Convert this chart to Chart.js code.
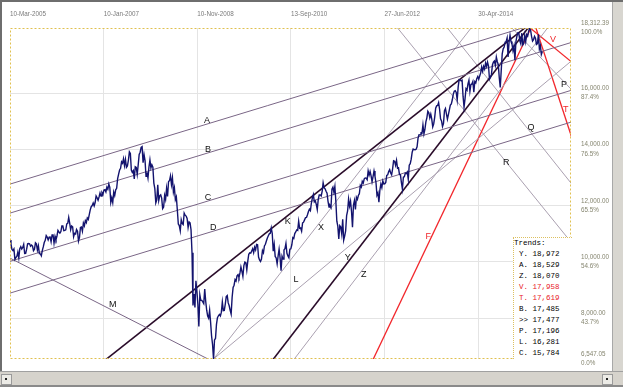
<!DOCTYPE html>
<html><head><meta charset="utf-8">
<script src="https://cdn.jsdelivr.net/npm/chart.js@4.4.1/dist/chart.umd.min.js"></script>
<style>
html,body{margin:0;padding:0;background:#fff;}
#wrap{position:relative;width:623px;height:387px;overflow:hidden;background:#fff;}
canvas{position:absolute;left:0;top:0;}
.fr{position:absolute;}
#trends{position:absolute;left:513px;top:237px;width:58px;height:121px;background:#fff;border-left:1px dotted #dcc060;border-top:1px dotted #dcc060;font-family:'Liberation Mono','Courier New',monospace;font-size:7.5px;line-height:11px;color:#000;white-space:pre;}
#trends div{padding-left:5px;}
#trends div.h{padding-left:0px;}
</style></head>
<body><div id="wrap">
<canvas id="c" width="623" height="387"></canvas>
<div class="fr" style="left:0;top:0;width:623px;height:2px;background:#6e6e6e"></div>
<div class="fr" style="left:0;top:0;width:2px;height:372px;background:#6e6e6e"></div>
<div class="fr" style="left:612px;top:2px;width:1px;height:370px;background:#a8a8a8"></div>
<div class="fr" style="left:613px;top:2px;width:10px;height:370px;background:#d8d6d0"></div>
<div class="fr" style="left:0;top:371px;width:623px;height:1px;background:#a0a0a0"></div>
<div class="fr" style="left:0;top:372px;width:623px;height:15px;background:#d6d3cc"></div>
<div class="fr" style="left:0;top:385px;width:623px;height:2px;background:#8a8a8a"></div>
<div class="fr" style="left:1px;top:374px;width:9px;height:9px;background:#ecebe6;border:1px solid #9a9a9a"></div>
<div class="fr" style="left:5px;top:378px;width:2px;height:2px;background:#222"></div>
<div class="fr" style="left:602px;top:374px;width:9px;height:9px;background:#ecebe6;border:1px solid #9a9a9a"></div>
<div class="fr" style="left:606px;top:378px;width:2px;height:2px;background:#222"></div>
<div id="trends"></div>
</div>
<script>
// Dow Jones weekly closes, first week ending 11-Mar-2005
const dow2005 = [10774,10629,10442,10404,10461,10088,10157,10193,10345,10140,10471,10542,10460,10512,10623,10297,10303,10449,10640,10651,10641,10558,10600,10559,10397,10447,10678,10641,10419,10569,10292,10287,10215,10402,10530,10686,10766,10931,10877,10778,10876,10883,10718];
const dow2006 = [10959,10960,10667,10908,10794,10920,11116,11062,11022,11077,11280,11280,11110,11120,11138,11348,11367,11578,11380,11144,11278,11248,10892,11015,10990,11150,11091,10739,10868,11220,11240,11089,11381,11284,11465,11393,11560,11509,11679,11850,11960,12002,12090,11986,12108,12342,12280,12194,12307,12445,12343,12463];
const dow2007 = [12398,12556,12565,12487,12653,12580,12767,12647,12114,12276,12110,12481,12354,12560,12612,12961,13120,13264,13326,13556,13507,13668,13424,13639,13360,13409,13611,13908,13851,13265,13182,13240,12950,13379,13358,13113,13442,13820,13896,14066,14093,13522,13807,13596,13043,13177,12981,13372,13626,13340,13451,13366];
const dow2008 = [12800,12606,12099,12207,12743,12182,12348,12381,12266,11894,11951,12361,12216,12609,12325,12849,12891,13058,12746,12986,12480,12638,12209,12307,11843,11347,11288,11100,11496,11370,11326,11734,11659,11628,11543,11220,11421,11388,11143,10325,8451,8852,8378,9325,8943,8497,7700,8829,8635,8629,8579,8515];
const dow2009 = [9034,8599,8281,8077,8000,8280,7850,7366,7063,6547,7224,7278,7776,8018,8083,8131,8076,8212,8575,8268,8277,8500,8763,8799,8539,8438,8280,8146,8743,9093,9171,9370,9321,9505,9544,9441,9605,9820,9665,9487,9864,9995,9972,9712,10023,10270,10318,10309,10388,10471,10329,10520,10428];
const dow2010 = [10618,10610,10173,10067,10012,10099,10403,10325,10567,10625,10742,10851,10927,10998,11019,11204,11009,10380,10620,10193,10137,9931,10212,10450,10144,9686,10198,10098,10425,10466,10654,10303,10214,10150,10448,10462,10608,10860,10830,11006,11063,11133,11118,11445,11193,11204,11092,11382,11410,11492,11573,11578];
const dow2011 = [11675,11787,11871,11823,12092,12273,12391,12130,12169,12044,11858,12221,12376,12380,12342,12506,12811,12638,12596,12512,12441,12151,11952,12004,11934,12583,12657,12480,12681,12143,11445,11269,10818,11285,11240,10992,11509,10771,10913,11103,11644,11809,12231,11983,12153,11796,11231,12019,12184,11866,12294,12218];
const dow2012 = [12360,12422,12720,12660,12862,12801,12950,12983,12978,12922,13233,13081,13212,13060,12850,13029,13228,13038,12821,12369,12455,12119,12554,12767,12640,12880,12772,12777,12823,13076,13096,13208,13275,13158,13091,13306,13593,13579,13437,13610,13329,13343,13107,13093,12815,12588,13010,13026,13155,13135,13190,12938];
const dow2013 = [13435,13488,13650,13896,14010,13993,13982,14001,14090,14397,14515,14512,14579,14565,14865,14548,14712,14974,15118,15354,15303,15116,15248,15070,14800,14910,15136,15464,15544,15559,15658,15425,15082,15010,14810,14923,15376,15452,15258,15073,15237,15400,15570,15616,15762,15962,16065,16086,16020,15755,16221,16479];
const dow2014 = [16470,16437,16459,15880,15500,15794,16154,16104,16322,16453,16066,16303,16323,16413,16027,16409,16361,16513,16584,16492,16607,16717,16924,16776,16948,16852,17068,16944,17100,16961,16493,16554,16663,17001,17098,17138,16988,17280,17113,17010,16544,16200,16805,17391,17573,17635,17810,17828,17958,17281,17805,18053];
const dow2015 = [17833,17737,17511,17673,17165,17825,18019,18141,18133,17857,17749,18128,17713,17763,18058,17827,18081,18025,18191,18312,18232,18011,17849,17899,18016,17947,17730,17760,18086,17569,17690,17373,17477];

// Axis ticks
const xTickWeeks = [0, 95.7, 191.4, 287.1, 382.8, 478.5];
const xTickLabels = ['10-Mar-2005','10-Jan-2007','10-Nov-2008','13-Sep-2010','27-Jun-2012','30-Apr-2014'];
const yTickValues = [6547.05, 8000, 10000, 12000, 14000, 16000, 18312.39];
const yTickPercents = ['0.0%','43.7%','54.6%','65.5%','76.5%','87.4%','100.0%'];

// Trend lines: two anchor points each (week, value)
const lineNames  = ['A','B','C','D','M','K','Y','Z','X','L','F','V','T','P','Q','R'];
const lineWeek1  = [0,0,0,0,0,99.8,269.9,291.2,208,208,371.7,531.6,544,544,447,396.1];
const lineValue1 = [12764,11733,10018,8889,10133,6578,6578,6578,6547,6547,6578,18312,17619,17196,18312,18312];
const lineWeek2  = [544,544,544,544,198.6,297.4,544,544,544,544,503.1,544,573.3,574.3,573.3,573.3];
const lineValue2 = [18529,17485,15784,14655,6613,12018,18972,18070,21566,16281,16178,17958,14507,16107,12800,10702];
// Trend-line label anchors (week, value)
const labelWeek  = [201.3,202.3,202.3,207.7,104.9,283.8,345.2,361.5,317.7,292.2,427.4,555.0,567.9,566.2,532.3,507.1];
const labelValue = [15040,14009,12302,11236,8498,11424,10169,9564,11236,9387,10891,17920,15431,16295,14780,13522];

// Trends box
const trendNames  = ['Y','A','Z','V','T','B','>>','P','L','C'];
const trendValues = [18972,18529,18070,17958,17619,17485,17477,17196,16281,15784];

const groupOf = {A:'ch',B:'ch',C:'ch',D:'ch',M:'ch',K:'major',Y:'major',Z:'light',X:'light',L:'light',P:'light',Q:'light',R:'light',F:'red',V:'red',T:'red'};
const groupStyle = {ch:{c:'#7a6686',w:1}, major:{c:'#2a0c2a',w:1.6}, light:{c:'#aaa0b0',w:1}, red:{c:'#f2262b',w:1.3}};
const redNames = ['F','V','T'];

const X_MAX = 573.3;
const closes = [].concat(dow2005,dow2006,dow2007,dow2008,dow2009,dow2010,dow2011,dow2012,dow2013,dow2014,dow2015);

function fmt(v, d){
  const s = v.toFixed(d);
  const parts = s.split('.');
  parts[0] = parts[0].replace(/\B(?=(\d{3})+(?!\d))/g, ',');
  return parts.join('.');
}

const datasets = [];
lineNames.forEach((n,i)=>{
  const slope = (lineValue2[i]-lineValue1[i])/(lineWeek2[i]-lineWeek1[i]);
  const wA = -30, wB = 620;
  const st = groupStyle[groupOf[n]];
  datasets.push({
    data:[{x:wA,y:lineValue1[i]+slope*(wA-lineWeek1[i])},{x:wB,y:lineValue1[i]+slope*(wB-lineWeek1[i])}],
    borderColor:st.c, borderWidth:st.w, pointRadius:0, tension:0, clip:0, order:2
  });
});
datasets.push({
  data: closes.map((v,i)=>({x:i,y:v})),
  borderColor:'#13136e', borderWidth:1.4, pointRadius:0, tension:0, clip:0, order:1
});

const decor = {
  id:'decor',
  afterDatasetsDraw(chart){
    const ctx = chart.ctx, xs = chart.scales.x, ys = chart.scales.y, a = chart.chartArea;
    ctx.save();
    ctx.font = '9px "Liberation Sans", Arial, sans-serif';
    ctx.textAlign = 'center'; ctx.textBaseline = 'middle';
    lineNames.forEach((n,i)=>{
      ctx.fillStyle = redNames.includes(n) ? '#f0262b' : '#111';
      ctx.fillText(n, xs.getPixelForValue(labelWeek[i]), ys.getPixelForValue(labelValue[i]));
    });
    ctx.setLineDash([2,2]);
    ctx.strokeStyle = '#e0c050'; ctx.lineWidth = 1;
    ctx.strokeRect(a.left+0.5, a.top+0.5, a.right-a.left-1, a.bottom-a.top-1);
    ctx.restore();
  }
};

const tickFont = '"Liberation Sans", Arial, sans-serif';
new Chart(document.getElementById('c'), {
  type:'line',
  data:{datasets},
  options:{
    responsive:false, animation:false, devicePixelRatio:1,
    layout:{padding:{left:8,right:0,top:0,bottom:28}},
    plugins:{legend:{display:false}, tooltip:{enabled:false}},
    scales:{
      x:{type:'linear', position:'top', min:0, max:X_MAX,
        afterFit(s){ s.height = 28; },
        afterBuildTicks(s){ s.ticks = xTickWeeks.map(v=>({value:v})); },
        grid:{color:(c)=> c.index===0 ? 'rgba(0,0,0,0)' : '#e4e4e4', drawTicks:false, lineWidth:1},
        border:{display:false},
        ticks:{autoSkip:false, maxRotation:0, align:'start', padding:10, color:'#7a7a7a',
          font:{family:tickFont, size:6.3},
          callback:(v)=>{ const k = xTickWeeks.indexOf(v); return k>=0 ? xTickLabels[k] : ''; }}
      },
      y:{type:'linear', position:'right', min:6547.05, max:18312.39,
        afterFit(s){ s.width = 52; },
        afterBuildTicks(s){ s.ticks = yTickValues.map(v=>({value:v})); },
        grid:{color:(c)=> (c.index===0 || c.index===yTickValues.length-1) ? 'rgba(0,0,0,0)' : '#e4e4e4', drawTicks:false, lineWidth:1},
        border:{display:false},
        ticks:{padding:10, color:'#85856f', crossAlign:'near',
          font:{family:tickFont, size:6.3, lineHeight:1.45},
          callback:(v)=>{ const k = yTickValues.indexOf(v); return k>=0 ? [fmt(v,2), yTickPercents[k]] : ''; }}
      }
    }
  },
  plugins:[decor]
});

const box = document.getElementById('trends');
let html = '<div class="h">Trends:</div>';
trendNames.forEach((n,i)=>{
  const col = (n==='V'||n==='T') ? '#e82028' : '#000';
  const lab = n==='>>' ? '>> ' : n+'. ';
  html += '<div style="color:'+col+'">'+lab.replace(/>/g,'&gt;')+fmt(trendValues[i],0)+'</div>';
});
box.innerHTML = html;
</script>
</body></html>
